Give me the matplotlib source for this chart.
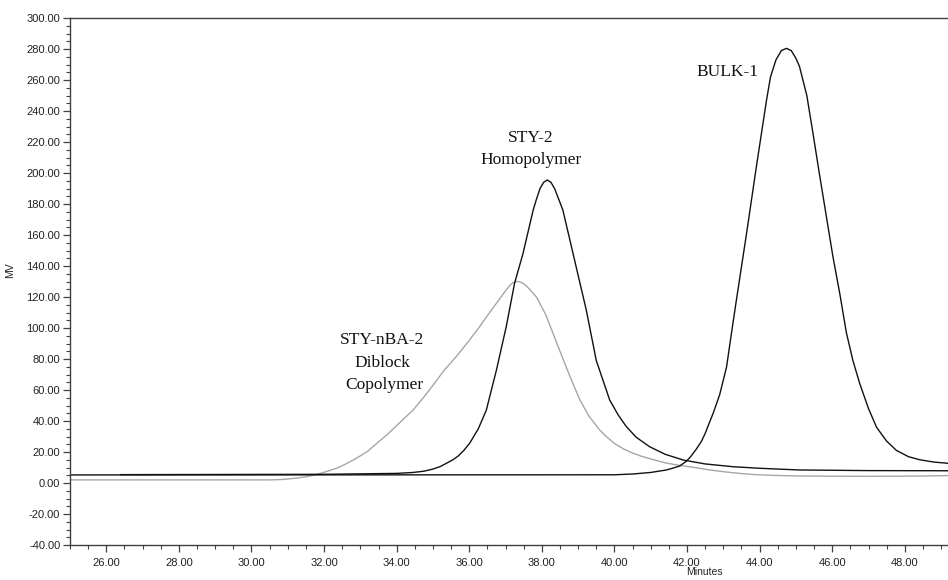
import numpy as np
import matplotlib
matplotlib.use("Agg")
from matplotlib import pyplot as plt
from matplotlib.ticker import MultipleLocator, FormatStrFormatter

# retention time (min) / detector response (MV)
copoly_t = [25.0, 30.5, 30.8, 31.0, 31.25, 31.5, 31.7, 31.9, 32.15, 32.4,
            32.6, 32.8, 33.0, 33.2, 33.5, 33.75, 34.0, 34.2, 34.45, 34.7,
            35.0, 35.3, 35.64, 36.0, 36.29, 36.5, 36.75, 37.0, 37.1, 37.2,
            37.3, 37.4, 37.5, 37.58, 37.7, 37.85, 38.1, 38.3, 38.55, 38.77,
            39.04, 39.3, 39.6, 39.8, 40.0, 40.25, 40.5, 40.75, 41.0, 41.4,
            41.8, 42.3, 42.6, 43.0, 43.4, 43.8, 44.4, 45.1, 47.0, 48.5,
            49.2]
copoly_v = [2.0, 2.0, 2.2, 2.6, 3.2, 4.0, 5.0, 6.2, 8.0, 10.0,
            12.3, 14.8, 17.5, 20.5, 26.5, 31.5, 37.0, 41.5, 47.0, 54.0,
            63.0, 72.5, 81.5, 92.0, 101.0, 108.0, 116.0, 124.0, 127.0, 129.2,
            130.0, 129.8, 128.5, 127.0, 124.0, 120.0, 109.0, 97.0, 82.0, 69.0,
            54.0, 43.0, 34.0, 29.5, 25.5, 22.0, 19.3, 17.2, 15.5, 13.0,
            11.3, 9.7, 8.5, 7.3, 6.3, 5.5, 4.9, 4.5, 4.3, 4.5,
            4.8]

homo_t = [26.4, 32.0, 33.0, 34.0, 34.45, 34.75, 35.0, 35.2, 35.37, 35.55,
          35.7, 35.85, 36.01, 36.25, 36.47, 36.75, 37.02, 37.25, 37.48, 37.76,
          37.85, 37.95, 38.05, 38.15, 38.25, 38.35, 38.45, 38.58, 38.86, 39.22,
          39.5, 39.87, 40.1, 40.33, 40.6, 40.97, 41.4, 41.9, 42.5, 43.27,
          44.0, 45.1, 47.0, 49.2]
homo_v = [5.4, 5.6, 5.9, 6.2, 6.8, 7.6, 9.0, 10.6, 12.7, 15.0,
          17.5, 21.0, 25.6, 35.0, 47.0, 73.0, 101.0, 129.0, 148.0, 176.0,
          183.0, 190.0, 194.0, 195.5, 194.0, 190.0, 184.0, 176.0, 148.0, 112.0,
          79.0, 53.5, 44.0, 36.3, 29.5, 23.4, 18.5, 14.8, 12.3, 10.5,
          9.5, 8.4, 8.0, 7.9]

bulk_t = [25.0, 40.0, 40.5, 41.0, 41.43, 41.6, 41.8, 41.98, 42.1, 42.26,
          42.4, 42.5, 42.6, 42.72, 42.9, 43.09, 43.22, 43.36, 43.64, 43.91,
          44.19, 44.3, 44.45, 44.6, 44.74, 44.87, 45.0, 45.1, 45.3, 45.47,
          45.65, 45.84, 46.02, 46.21, 46.39, 46.57, 46.76, 47.0, 47.22, 47.5,
          47.77, 48.1, 48.41, 48.8, 49.2]
bulk_v = [5.2, 5.3, 5.8, 6.8, 8.4, 9.5, 11.0, 14.0, 17.0, 22.0,
          27.0, 32.0, 38.0, 45.0, 57.0, 75.0, 96.0, 118.0, 161.0, 204.0,
          247.0, 262.0, 273.0, 279.0, 280.4, 279.0, 274.0, 268.6, 250.0, 225.6,
          199.0, 171.8, 146.0, 122.0, 97.0, 79.0, 64.0, 48.0, 36.0, 27.0,
          21.0, 17.0, 15.0, 13.5, 12.7]

labels = ["BULK-1", "STY-2", "Homopolymer", "STY-nBA-2", "Diblock", "Copolymer"]

fig = plt.figure(figsize=(9.48, 5.8), dpi=100)
ax = fig.add_axes([70 / 948, 35 / 580, 878 / 948, 527 / 580])

ax.plot(copoly_t, copoly_v, color="#a6a6a6", lw=1.0)
ax.plot(bulk_t, bulk_v, color="#111111", lw=1.0)
ax.plot(homo_t, homo_v, color="#111111", lw=1.0)

ax.set_xlim(25.0, 49.19)
ax.set_ylim(-40, 300)

ax.xaxis.set_major_locator(MultipleLocator(2))
ax.xaxis.set_minor_locator(MultipleLocator(0.5))
ax.yaxis.set_major_locator(MultipleLocator(20))
ax.yaxis.set_minor_locator(MultipleLocator(5))
ax.xaxis.set_major_formatter(FormatStrFormatter("%.2f"))
ax.yaxis.set_major_formatter(FormatStrFormatter("%.2f"))
ax.set_xticks(np.arange(26, 49, 2))

ax.spines["right"].set_visible(False)
for s in ["left", "bottom", "top"]:
    ax.spines[s].set_color("#404040")
    ax.spines[s].set_linewidth(1.0)

ax.tick_params(which="major", direction="out", length=5, width=0.9,
               color="#404040", labelsize=8, labelcolor="#222222", pad=2,
               labelfontfamily="Liberation Sans")
ax.tick_params(which="minor", direction="out", length=3, width=0.8,
               color="#404040")
ax.tick_params(axis="x", which="major", pad=4)

ax.set_xlabel("Minutes", fontsize=7.5, family="Liberation Sans", color="#222222")
ax.xaxis.set_label_coords((704 - 70) / 878, -0.042)
ax.set_ylabel("MV", fontsize=7.5, family="Liberation Sans", color="#222222")
ax.yaxis.set_label_coords(-0.0626, 0.522)

txt = dict(ha="center", va="center", fontsize=12.5, family="Liberation Serif",
           color="#111111")
ax.text(43.10, 265.4, labels[0], **txt)
ax.text(37.70, 222.6, labels[1], **txt)
ax.text(37.70, 208.4, labels[2], **txt)
ax.text(33.60, 92.3, labels[3], **txt)
ax.text(33.60, 77.6, labels[4], **txt)
ax.text(33.65, 63.2, labels[5], **txt)

fig.savefig("out.png", dpi=100)
